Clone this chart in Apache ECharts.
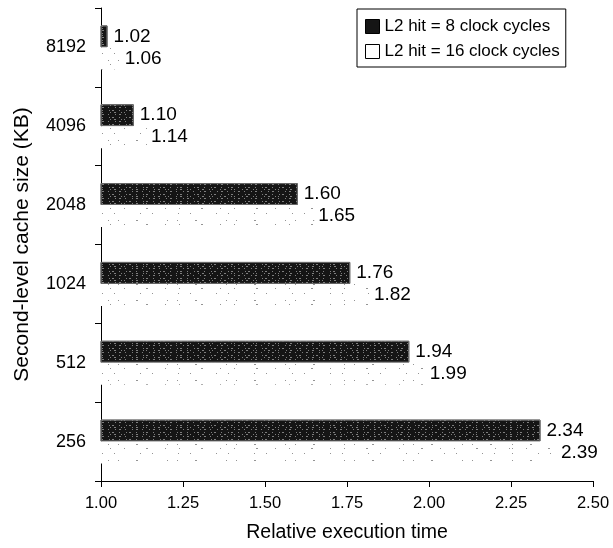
<!DOCTYPE html>
<html>
<head>
<meta charset="utf-8">
<script src="https://cdn.jsdelivr.net/npm/echarts@6/dist/echarts.min.js"></script>
<style>
  html, body { margin: 0; padding: 0; background: #fff; }
  #chart { width: 613px; height: 548px; }
</style>
</head>
<body>
<div id="chart"></div>
<script>
const categories = ['256', '512', '1024', '2048', '4096', '8192'];
const hit8Values = [2.34, 1.94, 1.76, 1.60, 1.10, 1.02];
const hit16Values = [2.39, 1.99, 1.82, 1.65, 1.14, 1.06];
const xTicks = [1.00, 1.25, 1.50, 1.75, 2.00, 2.25, 2.50];
const seriesNames = ['L2 hit = 8 clock cycles', 'L2 hit = 16 clock cycles'];

const FONT = "'Liberation Sans', Arial, Helvetica, sans-serif";

const chart = echarts.init(document.getElementById('chart'), null, { renderer: 'canvas' });

const darkDecal = {
  symbol: 'rect',
  symbolSize: 1,
  color: 'rgba(255,255,255,0.45)',
  dashArrayX: [[1, 3, 2, 5, 1, 2, 1, 7], [2, 4, 1, 6, 1, 3], [1, 6, 1, 2, 2, 5]],
  dashArrayY: [1, 1, 1, 2, 1, 1],
  rotation: 0
};
const lightDecal = {
  symbol: 'rect',
  symbolSize: 1,
  color: 'rgba(60,60,60,0.55)',
  dashArrayX: [[1, 13, 1, 21, 2, 17], [1, 25, 1, 11], [1, 17, 2, 29, 1, 9]],
  dashArrayY: [1, 4, 1, 6, 1, 3],
  rotation: 0
};

const option = {
  backgroundColor: '#ffffff',
  animation: false,
  textStyle: { fontFamily: FONT, color: '#000' },
  grid: { left: 101, right: 20, top: 8, bottom: 67, containLabel: false },
  legend: {
    orient: 'vertical',
    left: 357,
    top: 9,
    padding: [9, 6, 7, 8],
    itemGap: 8,
    itemWidth: 14,
    itemHeight: 14,
    icon: 'rect',
    borderColor: '#000',
    borderWidth: 1,
    backgroundColor: '#fff',
    textStyle: { fontFamily: FONT, fontSize: 17, color: '#000', lineHeight: 17 },
    data: [
      { name: seriesNames[0], itemStyle: { color: '#151515', borderColor: '#000', borderWidth: 1, decal: 'none' } },
      { name: seriesNames[1], itemStyle: { color: '#ffffff', borderColor: '#000', borderWidth: 1, decal: 'none' } }
    ]
  },
  xAxis: {
    type: 'value',
    min: xTicks[0],
    max: xTicks[xTicks.length - 1],
    interval: 0.25,
    name: 'Relative execution time',
    nameLocation: 'middle',
    nameGap: 42,
    nameTextStyle: { fontFamily: FONT, fontSize: 19.5, color: '#000' },
    axisLine: { show: true, lineStyle: { color: '#000', width: 1 } },
    axisTick: { show: true, length: 6, inside: false, lineStyle: { color: '#000' } },
    splitLine: { show: false },
    axisLabel: {
      fontFamily: FONT, fontSize: 16.5, color: '#000', margin: 14,
      formatter: v => v.toFixed(2)
    }
  },
  yAxis: {
    type: 'category',
    data: categories,
    name: 'Second-level cache size (KB)',
    nameLocation: 'middle',
    nameGap: 68,
    nameRotate: 90,
    nameTextStyle: { fontFamily: FONT, fontSize: 21, color: '#000' },
    axisLine: { show: true, lineStyle: { color: '#000', width: 1 } },
    axisTick: { show: true, length: 6, inside: false, alignWithLabel: false, lineStyle: { color: '#000' } },
    splitLine: { show: false },
    axisLabel: { fontFamily: FONT, fontSize: 18, color: '#000', margin: 15 }
  },
  series: [
    {
      name: seriesNames[0],
      type: 'bar',
      data: hit8Values,
      barWidth: 22,
      barGap: '0%',
      itemStyle: { color: '#151515', borderColor: '#666', borderWidth: 1, decal: darkDecal },
      label: {
        show: true, position: 'right', distance: 6,
        fontFamily: FONT, fontSize: 19, color: '#000',
        formatter: p => p.value.toFixed(2)
      }
    },
    {
      name: seriesNames[1],
      type: 'bar',
      data: hit16Values,
      barWidth: 22,
      barGap: '0%',
      itemStyle: { color: '#ffffff', decal: lightDecal },
      label: {
        show: true, position: 'right', distance: 4,
        fontFamily: FONT, fontSize: 19, color: '#000',
        formatter: p => p.value.toFixed(2)
      }
    }
  ]
};

chart.setOption(option);
</script>
</body>
</html>
